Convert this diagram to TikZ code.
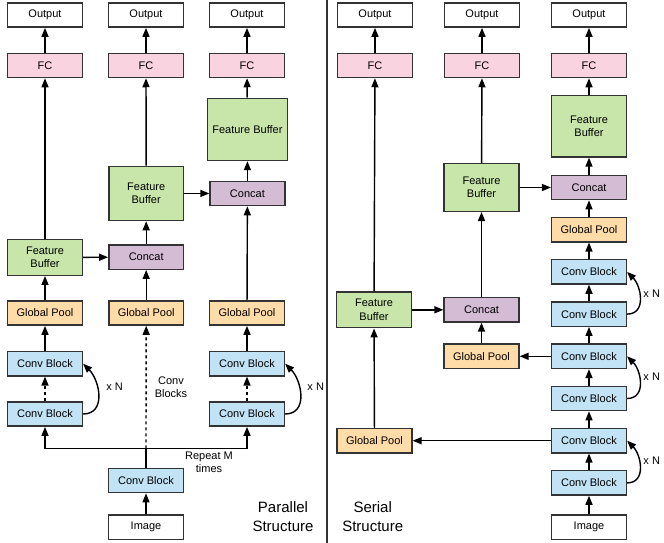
\documentclass[tikz,border=0pt]{standalone}
\usepackage{fontspec}
\setmainfont{Liberation Sans}
\usetikzlibrary{positioning, arrows.meta}
\definecolor{fcPink}{HTML}{F9D3DF}
\definecolor{bufGreen}{HTML}{C8E6A9}
\definecolor{catPurple}{HTML}{D5BCD5}
\definecolor{poolOrange}{HTML}{FFDCA8}
\definecolor{convBlue}{HTML}{C2E3F5}
\definecolor{edgeGray}{HTML}{333333}

\begin{document}
\begin{tikzpicture}[x=1pt, y=1pt, line width=1.4pt, >={Triangle[length=9pt,width=7pt]},
    box/.style={draw=edgeGray, align=center, minimum width=74.8pt, minimum height=24.3pt, inner sep=2pt, font=\fontsize{11}{13.3}\selectfont},
    note/.style={align=center, inner sep=0pt, font=\fontsize{11}{13.3}\selectfont},
    heading/.style={align=center, inner sep=0pt, font=\fontsize{15}{19}\selectfont}]

    \useasboundingbox (0,0) rectangle (664,-543);

        % Nodes: parallel structure
        \node (imgPar) [box] at (146,-527.2) {Image};
        \node (convStem) [box, fill=convBlue, above=21pt of imgPar] {Conv Block};
        \node (convLow1) [box, fill=convBlue] at (45,-414) {Conv Block};
        \node (convUp1) [box, fill=convBlue, above=24.6pt of convLow1] {Conv Block};
        \node (convLow3) [box, fill=convBlue] at (247,-414) {Conv Block};
        \node (convUp3) [box, fill=convBlue, above=24.6pt of convLow3] {Conv Block};
        \node (poolPar1) [box, fill=poolOrange, above=25pt of convUp1] {Global Pool};
        \node (poolPar2) [box, fill=poolOrange, right=25pt of poolPar1] {Global Pool};
        \node (poolPar3) [box, fill=poolOrange, above=25pt of convUp3] {Global Pool};
        \node (bufPar1) [box, fill=bufGreen, minimum height=35.6pt, above=24.2pt of poolPar1] {Feature\\Buffer};
        \node (catPar2) [box, fill=catPurple, above=30.2pt of poolPar2] {Concat};
        \node (bufPar2) [box, fill=bufGreen, minimum height=54.2pt, above=23pt of catPar2] {Feature\\Buffer};
        \node (catPar3) [box, fill=catPurple, right=25pt of bufPar2] {Concat};
        \node (bufPar3) [box, fill=bufGreen, minimum width=80.2pt, minimum height=62.2pt, above=19.4pt of catPar3] {Feature Buffer};
        \node (outPar1) [box] at (45,-15) {Output};
        \node (outPar2) [box] at (146,-15) {Output};
        \node (outPar3) [box] at (247,-15) {Output};
        \node (fcPar1) [box, fill=fcPink, below=24.7pt of outPar1] {FC};
        \node (fcPar2) [box, fill=fcPink, below=24.7pt of outPar2] {FC};
        \node (fcPar3) [box, fill=fcPink, below=24.7pt of outPar3] {FC};
        \coordinate (splitPar) at (146,-448.3);

        % Nodes: serial structure
        \node (imgSer) [box] at (589,-527.2) {Image};
        \node (convSer6) [box, fill=convBlue, above=18.6pt of imgSer] {Conv Block};
        \node (convSer5) [box, fill=convBlue, above=16.5pt of convSer6] {Conv Block};
        \node (convSer4) [box, fill=convBlue, above=16.5pt of convSer5] {Conv Block};
        \node (convSer3) [box, fill=convBlue, above=16.5pt of convSer4] {Conv Block};
        \node (convSer2) [box, fill=convBlue, above=16.5pt of convSer3] {Conv Block};
        \node (convSer1) [box, fill=convBlue, above=16.5pt of convSer2] {Conv Block};
        \node (poolSerC) [box, fill=poolOrange, above=16.5pt of convSer1] {Global Pool};
        \node (catSerC) [box, fill=catPurple, above=16.5pt of poolSerC] {Concat};
        \node (bufSerC) [box, fill=bufGreen, minimum height=61.3pt, above=17pt of catSerC] {Feature\\Buffer};
        \node (poolSerA) [box, fill=poolOrange, left=138.3pt of convSer5] {Global Pool};
        \node (poolSerB) [box, fill=poolOrange, left=31.3pt of convSer3] {Global Pool};
        \node (catSerB) [box, fill=catPurple, above=20.8pt of poolSerB] {Concat};
        \node (bufSerA) [box, fill=bufGreen, minimum height=35.9pt, left=31.3pt of catSerB] {Feature\\Buffer};
        \node (bufSerB) [box, fill=bufGreen, minimum height=47.6pt, left=31.3pt of catSerC] {Feature\\Buffer};
        \node (outSerA) [box] at (375,-15) {Output};
        \node (outSerB) [box] at (482,-15) {Output};
        \node (outSerC) [box] at (589,-15) {Output};
        \node (fcSerA) [box, fill=fcPink, below=24.7pt of outSerA] {FC};
        \node (fcSerB) [box, fill=fcPink, below=24.7pt of outSerB] {FC};
        \node (fcSerC) [box, fill=fcPink, below=24.7pt of outSerC] {FC};

        % Texts
        \node (repeatNote) [note] at (209,-462) {Repeat M\\times};
        \node (blocksNote) [note] at (171,-387) {Conv\\Blocks};
        \node (timesPar1) [note] at (114.7,-387) {x N};
        \node (timesPar3) [note] at (315.7,-387) {x N};
        \node (timesSer1) [note] at (651.7,-293.3) {x N};
        \node (timesSer2) [note] at (651.7,-376.7) {x N};
        \node (timesSer3) [note] at (651.7,-460.7) {x N};
        \node (parTitle) [heading] at (283,-516.5) {Parallel\\Structure};
        \node (serTitle) [heading] at (372.7,-516.7) {Serial\\Structure};

        % Divider
        \draw[edgeGray] (327,0) -- (327,-543);

        % Arrows: parallel structure
        \draw[->] (imgPar) -- (convStem);
        \draw (convStem) -- (splitPar);
        \draw[->] (splitPar) -| (convLow1);
        \draw[->] (splitPar) -| (convLow3);
        \draw[->, dashed] (splitPar) -- (poolPar2);
        \draw[->, dashed] (convLow1) -- (convUp1);
        \draw[->, dashed] (convLow3) -- (convUp3);
        \draw[->] (convLow1.east) to[out=0, in=-45, looseness=1.2] (convUp1.east);
        \draw[->] (convLow3.east) to[out=0, in=-45, looseness=1.2] (convUp3.east);
        \draw[->] (convUp1) -- (poolPar1);
        \draw[->] (convUp3) -- (poolPar3);
        \draw[->] (poolPar1) -- (bufPar1);
        \draw[->] (bufPar1) -- (fcPar1);
        \draw[->] (bufPar1) -- (catPar2);
        \draw[->] (poolPar2) -- (catPar2);
        \draw[->] (catPar2) -- (bufPar2);
        \draw[->] (bufPar2) -- (fcPar2);
        \draw[->] (bufPar2) -- (catPar3);
        \draw[->] (poolPar3) -- (catPar3);
        \draw[->] (catPar3) -- (bufPar3);
        \draw[->] (bufPar3) -- (fcPar3);
        \draw[->] (fcPar1) -- (outPar1);
        \draw[->] (fcPar2) -- (outPar2);
        \draw[->] (fcPar3) -- (outPar3);

        % Arrows: serial structure
        \draw[->] (imgSer) -- (convSer6);
        \draw[->] (convSer6) -- (convSer5);
        \draw[->] (convSer5) -- (convSer4);
        \draw[->] (convSer4) -- (convSer3);
        \draw[->] (convSer3) -- (convSer2);
        \draw[->] (convSer2) -- (convSer1);
        \draw[->] (convSer1) -- (poolSerC);
        \draw[->] (poolSerC) -- (catSerC);
        \draw[->] (catSerC) -- (bufSerC);
        \draw[->] (bufSerC) -- (fcSerC);
        \draw[->] (convSer6.east) to[out=0, in=-45, looseness=1.2] (convSer5.east);
        \draw[->] (convSer4.east) to[out=0, in=-45, looseness=1.2] (convSer3.east);
        \draw[->] (convSer2.east) to[out=0, in=-45, looseness=1.2] (convSer1.east);
        \draw[->] (convSer5) -- (poolSerA);
        \draw[->] (convSer3) -- (poolSerB);
        \draw[->] (poolSerA) -- (bufSerA);
        \draw[->] (bufSerA) -- (fcSerA);
        \draw[->] (bufSerA) -- (catSerB);
        \draw[->] (poolSerB) -- (catSerB);
        \draw[->] (catSerB) -- (bufSerB);
        \draw[->] (bufSerB) -- (fcSerB);
        \draw[->] (bufSerB) -- (catSerC);
        \draw[->] (fcSerA) -- (outSerA);
        \draw[->] (fcSerB) -- (outSerB);
        \draw[->] (fcSerC) -- (outSerC);
    \end{tikzpicture}
\end{document}
